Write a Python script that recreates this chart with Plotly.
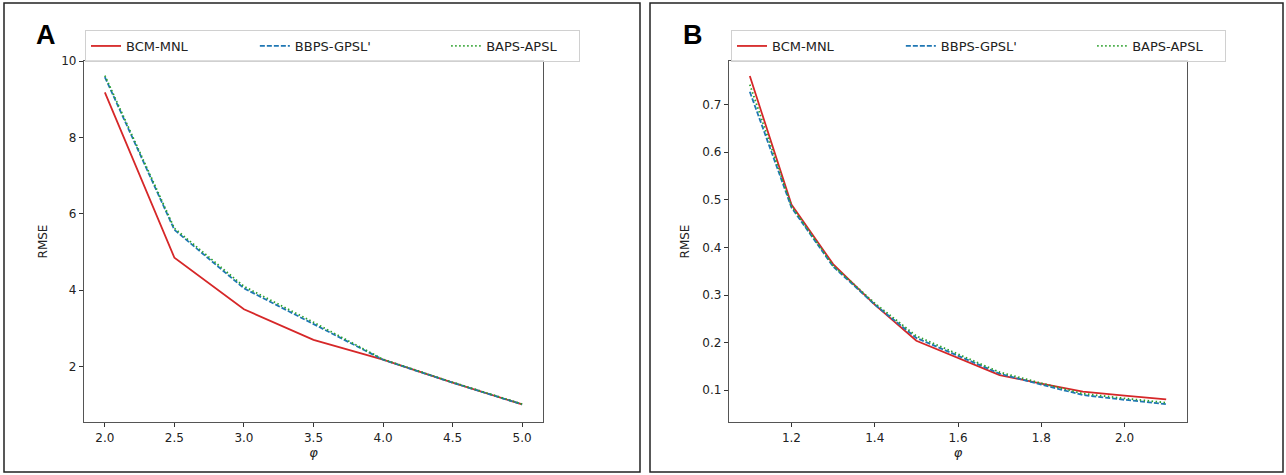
import plotly.graph_objects as go

# ---------------- data ----------------
phi_a = [2.0, 2.5, 3.0, 3.5, 4.0, 4.5, 5.0]
a_bcm_mnl = [9.18, 4.85, 3.50, 2.70, 2.18, 1.58, 1.01]
a_bbps_gpsl = [9.58, 5.58, 4.05, 3.12, 2.18, 1.58, 1.01]
a_baps_apsl = [9.62, 5.62, 4.10, 3.16, 2.19, 1.59, 1.02]

phi_b = [1.1, 1.2, 1.3, 1.4, 1.5, 1.6, 1.7, 1.8, 1.9, 2.0, 2.1]
b_bcm_mnl = [0.760, 0.490, 0.365, 0.280, 0.204, 0.168, 0.132, 0.114, 0.097, 0.089, 0.081]
b_bbps_gpsl = [0.727, 0.484, 0.360, 0.280, 0.210, 0.172, 0.135, 0.112, 0.090, 0.080, 0.071]
b_baps_apsl = [0.742, 0.487, 0.362, 0.283, 0.214, 0.176, 0.138, 0.115, 0.093, 0.083, 0.074]

series_names = ["BCM-MNL", "BBPS-GPSL'", "BAPS-APSL"]
series_colors = ["#d62728", "#1f77b4", "#2ca02c"]
series_dash = ["solid", "5px,2px", "1.5px,2.5px"]
# trailing non-breaking spaces to spread legend columns like the reference
legend_pad = [15, 17, 4]

a_xticks = [2.0, 2.5, 3.0, 3.5, 4.0, 4.5, 5.0]
a_yticks = [2, 4, 6, 8, 10]
b_xticks = [1.2, 1.4, 1.6, 1.8, 2.0]
b_yticks = [0.1, 0.2, 0.3, 0.4, 0.5, 0.6, 0.7]

W, H = 1286, 475


def px(x):
    return x / W


def py(y):
    return 1 - y / H


fig = go.Figure()

for panel, (xs, ys_list, xa, ya, leg) in enumerate([
    (phi_a, [a_bcm_mnl, a_bbps_gpsl, a_baps_apsl], "x", "y", "legend"),
    (phi_b, [b_bcm_mnl, b_bbps_gpsl, b_baps_apsl], "x2", "y2", "legend2"),
]):
    for name, ys, col, dash, pad in zip(series_names, ys_list, series_colors,
                                         series_dash, legend_pad):
        fig.add_trace(go.Scatter(
            x=xs, y=ys, mode="lines", name=name + "\u00a0" * pad,
            hovertemplate=name + ": %{y}<extra></extra>",
            line=dict(color=col, width=1.8, dash=dash),
            xaxis=xa, yaxis=ya, legend=leg,
        ))

tickfont = dict(family="DejaVu Sans", size=12, color="#222")
axis_common = dict(
    showgrid=False, zeroline=False, showline=True, mirror=True,
    linecolor="#555", linewidth=1.3, ticks="outside", ticklen=4,
    tickcolor="#333", tickwidth=1, tickfont=tickfont,
)

legend_common = dict(
    orientation="h", xanchor="left", yanchor="top",
    bgcolor="rgba(255,255,255,0.8)", bordercolor="#d0d0d0", borderwidth=1,
    font=dict(family="DejaVu Sans", size=13, color="#222"),
)

ydom = [py(422), py(61)]
fig.update_layout(
    width=W, height=H,
    margin=dict(l=0, r=0, t=0, b=0, autoexpand=False),
    paper_bgcolor="white", plot_bgcolor="white",
    font=dict(family="DejaVu Sans", color="#222"),
    xaxis=dict(domain=[px(84), px(543)], range=[1.85, 5.15],
               tickvals=a_xticks, tickformat=".1f",
               title=dict(text="<i>φ</i>", font=dict(size=13), standoff=4),
               anchor="y", **axis_common),
    yaxis=dict(domain=ydom, range=[0.55, 10.0], tickvals=a_yticks,
               title=dict(text="RMSE", font=dict(size=12), standoff=10),
               anchor="x", **axis_common),
    xaxis2=dict(domain=[px(729), px(1187)], range=[1.05, 2.15],
                tickvals=b_xticks, tickformat=".1f",
                title=dict(text="<i>φ</i>", font=dict(size=13), standoff=4),
                anchor="y2", **axis_common),
    yaxis2=dict(domain=ydom, range=[0.0334, 0.7916], tickvals=b_yticks,
                tickformat=".1f",
                title=dict(text="RMSE", font=dict(size=12), standoff=10),
                anchor="x2", **axis_common),
    legend=dict(x=px(85), y=py(30), **legend_common),
    legend2=dict(x=px(731), y=py(30), **legend_common),
    shapes=[
        dict(type="rect", xref="paper", yref="paper", x0=px(4), x1=px(640),
             y0=py(472), y1=py(3), line=dict(color="#222", width=1.5)),
        dict(type="rect", xref="paper", yref="paper", x0=px(650), x1=px(1283),
             y0=py(472), y1=py(3), line=dict(color="#222", width=1.5)),
    ],
    annotations=[
        dict(text="<b>A</b>", x=px(46), y=py(35), xref="paper", yref="paper",
             xanchor="center", yanchor="middle",
             showarrow=False, font=dict(family="Liberation Sans", size=27, color="black")),
        dict(text="<b>B</b>", x=px(693), y=py(35), xref="paper", yref="paper",
             xanchor="center", yanchor="middle",
             showarrow=False, font=dict(family="Liberation Sans", size=27, color="black")),
    ],
)

fig.write_html(
    "out.html",
    config={"displayModeBar": False},
    post_script="document.body.style.margin='0px';document.body.style.overflow='hidden';",
)
